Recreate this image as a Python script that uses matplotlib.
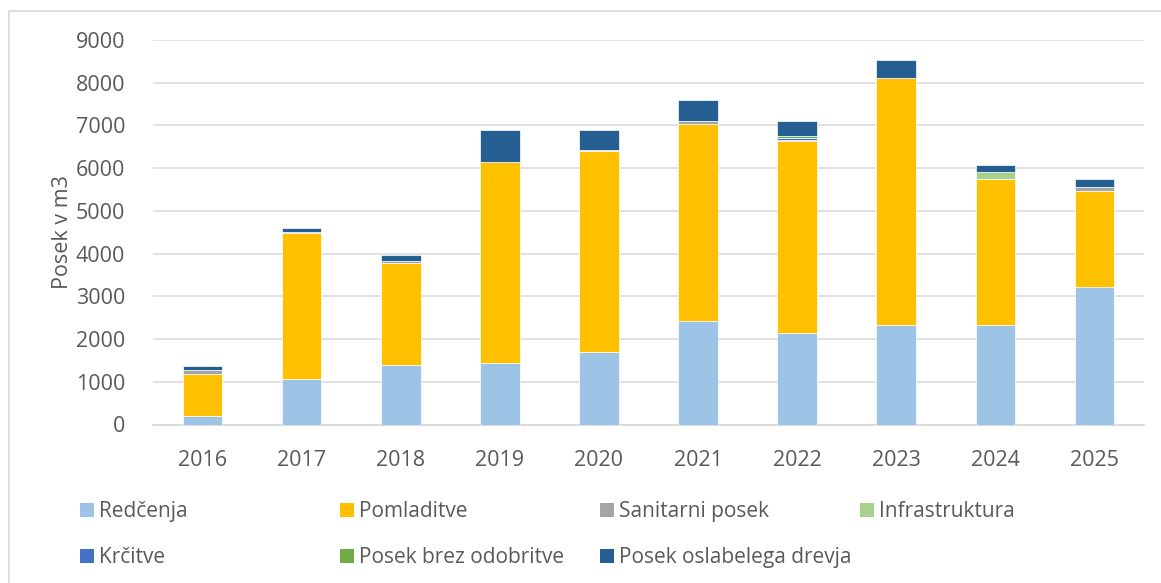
import matplotlib
matplotlib.use("Agg")
import matplotlib.pyplot as plt
from matplotlib.patches import Patch, Rectangle
import numpy as np

years = ["2016", "2017", "2018", "2019", "2020", "2021", "2022", "2023", "2024", "2025"]
redcenja = [210, 1060, 1390, 1430, 1700, 2415, 2150, 2320, 2320, 3220]
pomladitve = [975, 3430, 2390, 4720, 4705, 4620, 4475, 5790, 3415, 2240]
sanitarni = [90, 25, 45, 0, 20, 80, 30, 0, 0, 95]
infrastruktura = [0, 0, 0, 0, 0, 0, 0, 0, 165, 0]
krcitve = [0, 0, 0, 0, 0, 0, 50, 0, 0, 0]
brez_odobritve = [0, 0, 0, 0, 0, 0, 50, 0, 0, 0]
oslabelega = [95, 90, 150, 750, 465, 475, 350, 430, 165, 195]

series_names = ["Redčenja", "Pomladitve", "Sanitarni posek", "Infrastruktura",
                "Krčitve", "Posek brez odobritve", "Posek oslabelega drevja"]
series_values = [redcenja, pomladitve, sanitarni, infrastruktura,
                 krcitve, brez_odobritve, oslabelega]
colors = ["#9DC3E6", "#FFC000", "#A5A5A5", "#A9D18E", "#4472C4", "#70AD47", "#255E91"]

y_ticks = list(range(0, 9001, 1000))

plt.rcParams['font.family'] = ['Open Sans', 'DejaVu Sans']
txt_color = "#595959"
fs = 15.5

W, H = 1161, 583
fig = plt.figure(figsize=(W / 100, H / 100), dpi=100)
ax = fig.add_axes([153 / W, 1 - 424.5 / H, (1144 - 153) / W, (424.5 - 40) / H])

x = np.arange(len(years))
bottom = np.zeros(len(years))
for name, vals, c in zip(series_names, series_values, colors):
    v = np.array(vals, dtype=float)
    ax.bar(x, v, width=0.4, bottom=bottom, color=c, edgecolor="white",
           linewidth=0.5, label=name, zorder=3)
    bottom += v

ax.set_xlim(-0.5, len(years) - 0.5)
ax.set_ylim(0, 9000)
ax.set_yticks(y_ticks)
ax.set_yticklabels([str(t) for t in y_ticks])
ax.set_xticks(x)
ax.set_xticklabels(years)
ax.tick_params(axis='both', length=0, labelsize=fs, labelcolor=txt_color)
ax.tick_params(axis='y', pad=20)
ax.tick_params(axis='x', pad=18)
ax.grid(axis='y', color="#D9D9D9", linewidth=1.1, zorder=0)
for s in ["top", "right", "left"]:
    ax.spines[s].set_visible(False)
ax.spines["bottom"].set_color("#D9D9D9")
ax.spines["bottom"].set_linewidth(1.3)

fig.text(62 / W, 1 - 232 / H, "Posek v m3", rotation=90, ha="center", va="center",
         fontsize=fs, color=txt_color)

# legend laid out in four columns (Excel-like row-wise ordering)
cols = [[0, 4], [1, 5], [2, 6], [3]]
col_x = [70, 330, 590, 850]
for ci, idxs in enumerate(cols):
    handles = [Patch(facecolor=colors[i], edgecolor="none") for i in idxs]
    labels = [series_names[i] for i in idxs]
    fig.legend(handles, labels, loc="upper left",
               bbox_to_anchor=(col_x[ci] / W, 1 - 491 / H),
               frameon=False, fontsize=15, handlelength=0.65, handleheight=0.65,
               handletextpad=0.25, labelspacing=1.2, borderpad=0.0,
               labelcolor=txt_color)

fig.patches.append(Rectangle((8.5 / W, -0.1), 1.2, 1 - 11 / H + 0.1,
                             transform=fig.transFigure, fill=False,
                             edgecolor="#D9D9D9", linewidth=1.2))

fig.savefig("out.png", dpi=100)
